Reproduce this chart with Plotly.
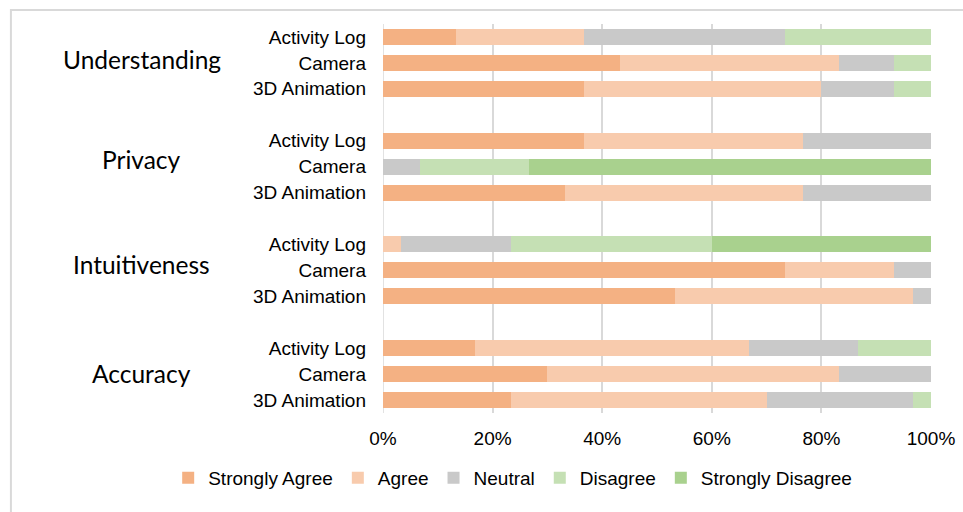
import plotly.graph_objects as go

# Survey responses (% of participants) per question and visualisation method
questions = ["Understanding", "Privacy", "Intuitiveness", "Accuracy"]
methods = ["Activity Log", "Camera", "3D Animation"]

strongly_agree = [13.3, 43.3, 36.7, 36.7, 0.0, 33.3, 0.0, 73.3, 53.3, 16.7, 30.0, 23.3]
agree = [23.3, 40.0, 43.3, 40.0, 0.0, 43.3, 3.3, 20.0, 43.4, 50.0, 53.3, 46.7]
neutral = [36.7, 10.0, 13.3, 23.3, 6.7, 23.4, 20.0, 6.7, 3.3, 20.0, 16.7, 26.7]
disagree = [26.7, 6.7, 6.7, 0.0, 20.0, 0.0, 36.7, 0.0, 0.0, 13.3, 0.0, 3.3]
strongly_disagree = [0.0, 0.0, 0.0, 0.0, 73.3, 0.0, 40.0, 0.0, 0.0, 0.0, 0.0, 0.0]

series = [
    ("Strongly Agree", strongly_agree, "#F4B183"),
    ("Agree", agree, "#F8CBAD"),
    ("Neutral", neutral, "#C9C9C9"),
    ("Disagree", disagree, "#C5E0B4"),
    ("Strongly Disagree", strongly_disagree, "#A9D18E"),
]

# Row slots: three methods per question, one empty slot between questions
slot = len(methods) + 1
rows = [g * slot + m for g in range(len(questions)) for m in range(len(methods))]
row_labels = [m for _ in questions for m in methods]

TEXT = dict(family="Liberation Sans, Arial, sans-serif", size=19, color="#000000")
GRID = "#D9D9D9"

fig = go.Figure()
for name, vals, color in series:
    fig.add_trace(go.Bar(
        name=name, x=vals, y=rows, orientation="h",
        marker=dict(color=color, line=dict(width=0)),
        width=0.62,
    ))

# Question names to the left of each block of rows
for g, q in enumerate(questions):
    fig.add_annotation(
        text=q, xref="paper", x=-0.44, xanchor="center",
        yref="y", y=g * slot + 1, yanchor="middle",
        yshift=[3, 7, 6, 1][g],
        showarrow=False,
        font=dict(family="Lato, 'Open Sans', sans-serif", size=24.5, color="#000000"),
    )

# Chart frame
fig.add_shape(
    type="rect", xref="paper", yref="paper",
    x0=-0.679, x1=1.2, y0=-0.35, y1=1.036,
    line=dict(color=GRID, width=2), fillcolor="rgba(0,0,0,0)", layer="below",
)

fig.update_layout(
    width=963, height=512,
    margin=dict(l=383, r=32, t=24, b=99, autoexpand=False),
    barmode="stack",
    paper_bgcolor="white", plot_bgcolor="white",
    font=TEXT,
    showlegend=True,
    legend=dict(
        orientation="h", xref="paper", yref="paper",
        x=-0.392, xanchor="left", y=-0.167, yanchor="middle",
        font=TEXT, itemclick=False, traceorder="normal",
        bgcolor="rgba(0,0,0,0)", itemwidth=30,
    ),
    xaxis=dict(
        range=[0, 100], dtick=20, ticksuffix="%",
        showgrid=True, gridcolor=GRID, gridwidth=1.5,
        zeroline=False, showline=False, ticks="",
        ticklabelstandoff=12, tickfont=TEXT, fixedrange=True,
    ),
    yaxis=dict(
        range=[len(questions) * slot - 1.5, -0.5],
        tickmode="array", tickvals=rows, ticktext=row_labels,
        showgrid=False, zeroline=False, showline=False, ticks="",
        ticklabelstandoff=16, tickfont=TEXT, fixedrange=True,
    ),
)
# left edge line at 0%
fig.add_vline(x=0, line=dict(color=GRID, width=1.5), layer="below")

fig.write_html("out.html")
